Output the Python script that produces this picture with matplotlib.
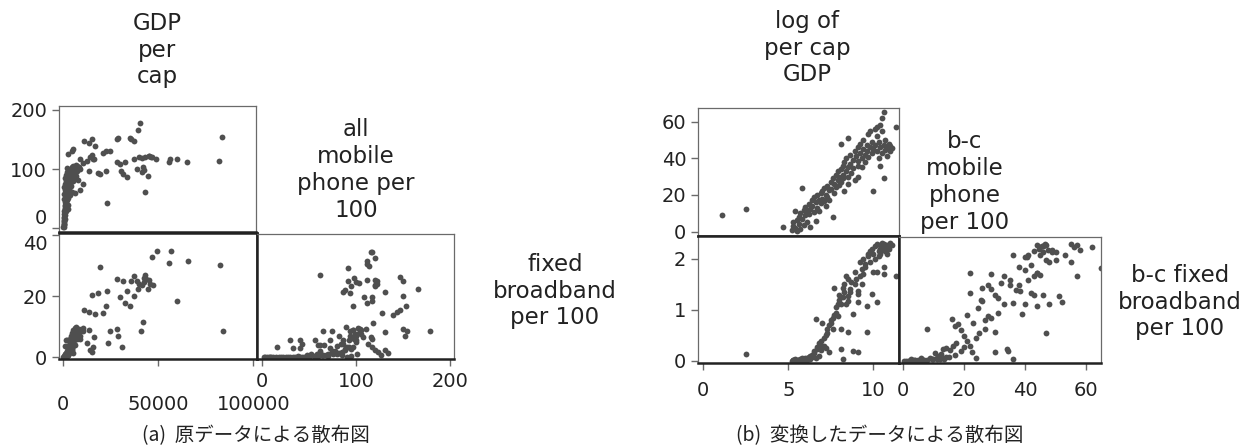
import numpy as np
import matplotlib.pyplot as plt

plt.rcParams['font.family'] = ['DejaVu Sans', 'Noto Sans CJK JP']

# ---- (a) raw data: GDP per cap, all mobile phone per 100, fixed broadband per 100
gdp = [84000, 82600, 65800, 56600, 55800, 60000, 49400, 46600, 43100, 45200,
       40800, 42000, 39500, 37500, 36000, 35300, 43500, 42500, 41500, 44700,
       42800, 47300, 37300, 33700, 32600, 30000, 28300, 30900, 28300, 29000,
       24700, 23000, 22600, 21000, 23500, 19500, 18400, 15300, 16800, 13700,
       11000, 15800, 15100, 10700, 13700, 31600, 12600, 14200, 16300, 45700,
       38900, 40000, 9000, 7400, 9000, 10500, 9000, 6300, 2600, 4700, 5300,
       250, 300, 350, 400, 450, 500, 550, 600, 650, 700, 750, 800, 850, 900,
       950, 1000, 1100, 1150, 1200, 1300, 1400, 1500, 1600, 1700, 1800, 1900,
       2000, 2100, 2200, 2300, 2400, 2500, 2600, 2700, 2800, 2900, 3000, 3100,
       3200, 3300, 3400, 3500, 3700, 3800, 4000, 4200, 4400, 4600, 4800, 5000,
       5200, 5400, 5600, 5800, 6000, 6200, 6500, 6800, 7000, 7300, 7600, 8000,
       8500, 1600, 2000, 3800, 4500, 1200, 2500, 2800, 5000, 700, 900, 1300,
       1500, 1900, 2200, 600, 800, 1000, 1400]
mobile = [154, 114, 112, 117, 112, 117, 116, 120, 62, 122,
          178, 118, 166, 147, 150, 153, 120, 103, 95, 88,
          98, 120, 117, 86, 112, 108, 112, 97, 150, 152,
          131, 131, 97, 127, 43, 91, 93, 150, 139, 143,
          147, 117, 123, 110, 97, 91, 113, 120, 116, 122,
          100, 120, 117, 105, 100, 74, 65, 60, 126, 131, 134,
          2, 5, 8, 3, 12, 15, 20, 7, 25, 18, 30, 10, 35, 22,
          40, 28, 45, 33, 50, 38, 55, 60, 42, 65, 70, 48,
          75, 58, 80, 62, 85, 68, 72, 88, 52, 78, 92, 82,
          66, 95, 86, 74, 90, 98, 84, 100, 93, 88, 103, 96,
          80, 105, 92, 99, 86, 102, 94, 107, 89, 100, 97, 82,
          104, 30, 40, 56, 72, 16, 33, 40, 62, 58, 64, 75,
          80, 95, 101, 50, 70, 85, 90]
broadband = [8.5, 30, 31.6, 34.7, 30.7, 18.4, 34.8, 32.6, 27, 25.2,
             8.7, 11.4, 22.4, 26.5, 25, 16.8, 25.5, 24.5, 23.5, 22.3,
             26, 23.5, 20, 21.6, 17.8, 19.7, 25.5, 3.2, 9.2, 7.0,
             8.4, 21.6, 16.8, 14.5, 4.5, 29.5, 21, 20.3, 14, 14.8,
             15.5, 3.2, 1.6, 9.4, 9.0, 25, 4.5, 2.3, 6.5, 24,
             24.8, 23.8, 6.0, 7.5, 7.0, 8.7, 8.7, 4.0, 0.8, 2.5, 1.5,
             0, 0, 0, 0, 0, 0.02, 0, 0.01, 0.05, 0.02, 0.03, 0, 0.1, 0.05,
             0.1, 0.08, 0.2, 0.1, 0.15, 0.3, 0.5, 0.4, 0.2, 0.8, 1.0, 0.6,
             1.5, 0.9, 1.2, 2.0, 1.8, 0.7, 3.0, 2.5, 1.1, 2.2, 3.5, 1.4,
             4.0, 2.8, 5.5, 1.9, 3.2, 6.0, 4.5, 5.0, 7.0, 2.6, 8.0, 6.5,
             3.8, 9.0, 5.5, 7.5, 4.2, 9.5, 8.5, 6.8, 9.8, 5.8, 8.8, 7.0,
             9.2, 5.5, 5.5, 5.5, 5.5, 3.5, 3.0, 3.0, 3.9, 0.3, 0.6, 1.0,
             1.3, 0.5, 0.9, 0.1, 0.4, 0.7, 0.2]

# ---- (b) transformed data: log GDP, b-c mobile, b-c broadband
lgdp = [1.1, 2.5, 4.7,
        5.2, 5.3, 5.3, 5.4, 5.4, 5.5, 5.5, 5.6, 5.6, 5.7, 5.7, 5.8, 5.8, 5.9, 5.9, 6.0, 6.0,
        6.1, 6.1, 6.2, 6.2, 6.3, 6.3, 6.4, 6.4, 6.5, 6.5, 6.6, 6.6, 6.7, 6.7, 6.8, 6.8, 6.9, 6.9, 7.0, 7.0,
        7.1, 7.1, 7.2, 7.2, 7.3, 7.3, 7.4, 7.4, 7.5, 7.5, 7.6, 7.6, 7.7, 7.7, 7.8, 7.8, 7.9, 7.9, 8.0, 8.0,
        8.1, 8.1, 8.1, 8.2, 8.2, 8.2, 8.3, 8.3, 8.4, 8.4, 8.5, 8.5, 8.5, 8.5, 8.6, 8.6, 8.7, 8.8, 8.8, 8.9, 8.9, 9.0,
        9.1, 9.1, 9.1, 9.1, 9.2, 9.2, 9.3, 9.3, 9.4, 9.4, 9.5, 9.5, 9.6, 9.6, 9.7, 9.7, 9.8, 9.8, 9.9, 9.9, 10.0, 10.0,
        10.1, 10.1, 10.2, 10.2, 10.2, 10.3, 10.3, 10.4, 10.4, 10.4, 10.5, 10.5, 10.5, 10.6, 10.6, 10.6, 10.7, 10.7,
        10.8, 10.8, 10.9, 10.9, 11.0, 11.0, 11.1, 11.3]
bc_mobile = [9.3, 12.5, 2.7,
             1.0, 3.0, 5.0, 2.0, 11.0, 6.5, 0.5, 8.0, 4.0, 10.0, 1.5, 24.0, 7.0, 12.0, 3.5, 9.0, 13.5,
             11.0, 5.5, 15.0, 9.5, 12.5, 2.5, 17.0, 14.0, 10.5, 19.0, 16.0, 6.0, 13.0, 20.0, 17.5, 11.5, 21.0, 15.5, 18.0, 22.0,
             16.5, 24.0, 20.0, 14.0, 25.0, 19.0, 22.5, 17.0, 27.0, 23.0, 8.0, 29.0, 21.0, 26.0, 31.0, 24.5, 28.0, 33.0, 25.5, 30.0,
             48.0, 34.0, 27.0, 31.0, 36.0, 29.0, 38.0, 22.0, 33.0, 40.0, 51.0, 35.0, 30.0, 26.0, 37.0, 42.0, 32.0, 39.0, 34.5, 44.0, 28.0, 41.0,
             36.0, 46.0, 30.0, 38.5, 43.0, 48.0, 40.0, 35.0, 45.0, 50.0, 42.0, 38.0, 47.0, 44.0, 53.0, 40.5, 46.0, 55.0, 43.0, 49.0, 22.0, 45.0,
             56.0, 47.0, 52.0, 44.0, 57.0, 49.0, 40.0, 58.0, 46.0, 36.0, 55.0, 43.0, 62.0, 29.0, 65.0, 47.0, 44.5, 50.0,
             46.0, 41.0, 45.0, 47.5, 44.0, 46.5, 45.5, 57.0]
bc_broadband = [np.nan, 0.13, np.nan,
                0.0, 0.01, 0.02, 0.0, 0.03, 0.01, 0.0, 0.02, 0.01, 0.04, 0.0, 0.05, 0.02, 0.03, 0.01, 0.05, 0.04,
                0.06, 0.02, 0.08, 0.04, 0.1, 0.03, 0.12, 0.07, 0.15, 0.2, 0.82, 0.05, 0.24, 0.28, 0.35, 0.1, 0.4, 0.22, 0.74, 0.3,
                0.3, 0.45, 0.5, 0.25, 0.55, 0.62, 0.18, 0.7, 0.8, 0.75, 0.63, 0.85, 0.9, 1.44, 0.95, 1.05, 0.89, 1.12, 1.2, 1.3,
                1.12, 0.24, 0.63, 1.25, 0.04, 1.43, 1.5, 1.35, 1.67, 1.12, 1.28, 1.61, 0.57, 1.18, 1.41, 1.35, 1.55, 0.92, 0.2, 1.74, 1.51, 1.6,
                1.15, 1.31, 0.18, 1.38, 1.67, 1.95, 1.8, 1.5, 1.7, 2.0, 1.9, 1.85, 0.56, 1.08, 2.1, 2.05, 2.15, 1.95, 1.31, 2.2, 1.74, 2.1,
                2.25, 2.0, 1.16, 1.74, 2.3, 2.15, 2.05, 2.2, 2.28, 2.1, 2.32, 2.18, 2.25, 1.71, 1.84, 2.3, 2.22, 2.15,
                2.28, 2.1, 2.25, 2.2, 2.3, 2.32, 2.28, 1.67]

W, H = 1254, 448
DOT = '#4f4f4f'
EDGE = '#6a6a6a'

fig = plt.figure(figsize=(W / 100, H / 100), dpi=100)


def px_axes(x0, y0, x1, y1):
    return fig.add_axes([x0 / W, 1 - y1 / H, (x1 - x0) / W, (y1 - y0) / H])


def style(ax, left_ticks, bottom_ticks, thick):
    for s in ax.spines.values():
        s.set_color(EDGE)
        s.set_linewidth(0.9)
    for s in thick:
        ax.spines[s].set_color('#222222')
        ax.spines[s].set_linewidth(1.8)
    ax.tick_params(axis='both', direction='out', length=5, width=1, color=EDGE,
                   labelsize=14, labelcolor='#222222')
    if not left_ticks:
        ax.set_yticks([])
    if not bottom_ticks:
        ax.set_xticks([])


def txt(x, y, s, size=16.5, **kw):
    fig.text(x / W, 1 - y / H, s, ha='center', va='center', fontsize=size,
             color='#222222', linespacing=1.22, **kw)


def dots(ax, x, y):
    ax.plot(x, y, 'o', ms=4.2, color=DOT, mec=DOT, mew=0)


# ---------------- panel (a)
ax = px_axes(59, 106, 256, 232)
dots(ax, gdp, mobile)
ax.set_xlim(-2100, 102000)
ax.set_ylim(-6, 206)
ax.set_yticks([0, 100, 200])
style(ax, True, False, ['bottom'])
ax.get_yticklabels()[0].set_va('bottom')

ax = px_axes(59, 233, 257, 359)
dots(ax, gdp, broadband)
ax.set_xlim(-2100, 102000)
ax.set_ylim(-0.6, 40.6)
ax.set_yticks([0, 20, 40])
ax.set_xticks([0, 50000, 100000])
style(ax, True, True, ['bottom', 'top', 'right'])
ax.get_yticklabels()[-1].set_va('top')
ax.tick_params(axis='x', pad=21)

ax = px_axes(257, 234, 454, 359)
dots(ax, mobile, broadband)
ax.set_xlim(-5.3, 204)
ax.set_ylim(-0.6, 40.6)
ax.set_xticks([0, 100, 200])
style(ax, False, True, ['bottom', 'left'])
ax.tick_params(axis='x', pad=4)

txt(157, 50, 'GDP\nper\ncap')
txt(356, 170, 'all\nmobile\nphone per\n100')
txt(555, 291, 'fixed\nbroadband\nper 100')

# ---------------- panel (b)
ax = px_axes(698, 108, 899, 236)
dots(ax, lgdp, bc_mobile)
ax.set_xlim(-0.3, 11.5)
ax.set_ylim(-2.4, 67.4)
ax.set_yticks([0, 20, 40, 60])
style(ax, True, False, ['bottom'])

ax = px_axes(698, 236, 899, 363)
dots(ax, lgdp, bc_broadband)
ax.set_xlim(-0.3, 11.5)
ax.set_ylim(-0.04, 2.45)
ax.set_yticks([0, 1, 2])
ax.set_xticks([0, 5, 10])
style(ax, True, True, ['bottom', 'top', 'right'])
ax.tick_params(axis='x', pad=8)

ax = px_axes(899, 237, 1101, 363)
dots(ax, bc_mobile, bc_broadband)
ax.set_xlim(-1.3, 64.9)
ax.set_ylim(-0.04, 2.45)
ax.set_xticks([0, 20, 40, 60])
style(ax, False, True, ['bottom', 'left'])
ax.tick_params(axis='x', pad=8)

txt(807, 48, 'log of\nper cap\nGDP')
txt(965, 182, 'b-c\nmobile\nphone\nper 100')
txt(1180, 302, 'b-c fixed\nbroadband\nper 100')

# captions
cap = dict(size=14, family=['Noto Sans CJK JP', 'DejaVu Sans'])
txt(256, 436, '(a)  原データによる散布図', **cap)
txt(880, 436, '(b)  変換したデータによる散布図', **cap)

fig.savefig('out.png', dpi=100)
